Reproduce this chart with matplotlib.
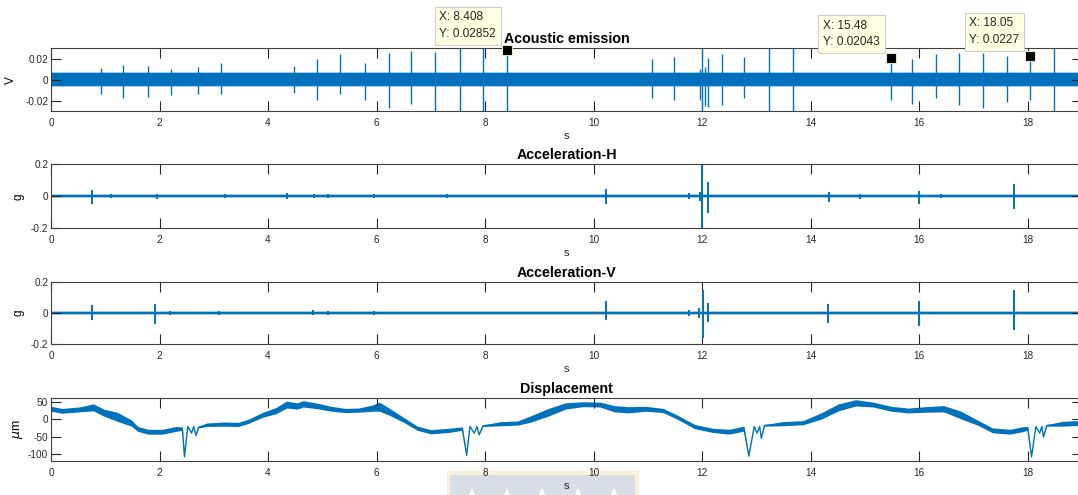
import numpy as np
import matplotlib
matplotlib.use("Agg")
import matplotlib.pyplot as plt
from matplotlib.patches import Rectangle, Polygon

plt.rcParams['font.family'] = ['Liberation Sans', 'DejaVu Sans']
plt.rcParams['axes.unicode_minus'] = False

BLUE = '#0072BD'
T_MAX = 19.0

# acoustic emission: noise floor and discrete bursts (s, V)
ae_floor = [-0.0062, 0.0064]
ae_fuzz = [-0.0074, 0.0076]
ae_t = [0.92, 1.335, 1.79, 2.22, 2.70, 3.135, 4.48, 4.90, 5.335, 5.78, 6.23, 6.63,
        7.07, 7.535, 7.955, 8.408, 11.07, 11.48, 11.96, 12.0, 12.05, 12.11, 12.36,
        12.78, 13.23, 13.68, 15.48, 15.86, 16.31, 16.74, 17.17, 17.62, 18.05, 18.49]
ae_hi = [0.0113, 0.0139, 0.0132, 0.0104, 0.0117, 0.0157, 0.0132, 0.0200, 0.0246,
         0.0157, 0.0258, 0.0277, 0.0260, 0.031, 0.031, 0.02852, 0.0195, 0.0214,
         0.010, 0.031, 0.012, 0.0210, 0.0246, 0.0214, 0.031, 0.031, 0.02043,
         0.0195, 0.0246, 0.0252, 0.0256, 0.0230, 0.0227, 0.031]
ae_lo = [-0.0135, -0.0176, -0.0167, -0.0148, -0.0135, -0.0139, -0.0123, -0.019,
         -0.0135, -0.019, -0.027, -0.0233, -0.031, -0.031, -0.031, -0.031, -0.0176,
         -0.019, -0.019, -0.031, -0.025, -0.026, -0.024, -0.0176, -0.031, -0.031,
         -0.0195, -0.023, -0.0176, -0.024, -0.027, -0.021, -0.0198, -0.031]

# data tips shown on the acoustic emission trace
tip_x = [8.408, 15.48, 18.05]
tip_y = [0.02852, 0.02043, 0.0227]

# horizontal acceleration (g)
acc_floor = [-0.007, 0.007]
acc_fuzz = [-0.012, 0.012]
ah_t = [0.757, 1.10, 1.95, 3.20, 4.35, 4.85, 5.10, 5.95, 7.30, 10.23, 11.75, 11.96,
        12.0, 12.11, 14.34, 14.9, 16.0, 16.4, 17.75]
ah_hi = [0.038, 0.015, 0.015, 0.015, 0.02, 0.014, 0.014, 0.014, 0.012, 0.046, 0.02,
         0.03, 0.21, 0.092, 0.03, 0.014, 0.033, 0.014, 0.077]
ah_lo = [-0.046, -0.012, -0.015, -0.012, -0.018, -0.012, -0.012, -0.012, -0.012,
         -0.046, -0.015, -0.03, -0.21, -0.104, -0.035, -0.014, -0.046, -0.012, -0.077]

# vertical acceleration (g)
av_t = [0.757, 1.92, 2.2, 3.1, 4.83, 5.1, 5.95, 10.23, 11.75, 11.95, 12.02, 12.11,
        14.31, 15.99, 17.74]
av_hi = [0.053, 0.055, 0.015, 0.012, 0.018, 0.014, 0.015, 0.077, 0.02, 0.03, 0.145,
         0.064, 0.055, 0.077, 0.145]
av_lo = [-0.043, -0.072, -0.012, -0.014, -0.015, -0.012, -0.012, -0.047, -0.02,
         -0.03, -0.157, -0.06, -0.064, -0.081, -0.11]

# displacement (um): trace, and half-width of the vibration band around it
d_t = [0, 0.2, 0.52, 0.78, 0.97, 1.22, 1.48, 1.6, 1.79, 2.05, 2.3, 2.42, 2.46, 2.52,
       2.59, 2.63, 2.67, 2.72, 2.87, 3.19, 3.45, 3.64, 3.89, 4.15, 4.34, 4.53, 4.65,
       4.91, 5.16, 5.42, 5.67, 5.93, 6.05, 6.24, 6.5, 6.75, 7.0, 7.33, 7.58, 7.66,
       7.72, 7.8, 7.85, 7.89, 7.96, 8.28, 8.6, 8.83, 9.15, 9.48, 9.8, 10.12, 10.38,
       10.64, 10.96, 11.28, 11.54, 11.86, 12.19, 12.5, 12.77, 12.86, 12.96, 13.01,
       13.06, 13.09, 13.15, 13.48, 13.86, 14.19, 14.51, 14.83, 15.15, 15.48, 15.8,
       16.12, 16.45, 16.77, 17.09, 17.35, 17.67, 17.93, 18.0, 18.07, 18.15, 18.22,
       18.26, 18.29, 18.35, 18.64, 18.95]
d_v = [30, 24, 28, 34, 19, 7, -11, -28, -36, -36, -28, -27, -108, -21,
       -40, -21, -47, -23, -16, -14, -15, -6, 12, 25, 42, 38, 44,
       38, 30, 25, 26, 32, 36, 21, -2, -26, -36, -32, -27, -104,
       -21, -40, -21, -45, -19, -13, -11, 0, 19, 38, 43, 42, 30,
       27, 30, 25, 6, -21, -32, -36, -27, -106, -21, -40,
       -21, -55, -18, -13, -10, 9, 34, 47, 42, 30, 25,
       28, 30, 12, -11, -32, -36, -28, -26, -108, -21, -40,
       -21, -51, -18, -13, -11]
d_w = [7, 7, 7, 10, 10, 13, 9, 7, 7, 7, 7, 5, 0, 0,
       0, 0, 0, 2, 5, 6, 6, 6, 7, 9, 10, 9, 9,
       8, 7, 6, 6, 9, 13, 10, 7, 6, 6, 6, 5, 0,
       0, 0, 0, 0, 2, 6, 6, 9, 11, 9, 7, 7, 9,
       9, 7, 6, 6, 6, 6, 7, 7, 0, 0, 0,
       0, 0, 2, 6, 6, 9, 10, 9, 7, 7, 7,
       8, 9, 11, 7, 7, 7, 7, 5, 0, 0, 0,
       0, 0, 2, 7, 7]

W, H = 1078, 495
fig = plt.figure(figsize=(W / 100, H / 100), dpi=100)


def panel(top_px, bottom_px):
    left, right = 51, 1082
    ax = fig.add_axes([left / W, 1 - bottom_px / H, (right - left) / W,
                       (bottom_px - top_px) / H])
    ax.set_xlim(0, T_MAX)
    ax.set_xticks(range(0, 19, 2))
    ax.tick_params(direction='in', length=7, width=0.8, top=True, right=True,
                   labelsize=7.2, labelcolor='#262626', color='#262626')
    ax.tick_params(axis='x', pad=5)
    ax.tick_params(axis='y', pad=2)
    for s in ax.spines.values():
        s.set_color('#404040')
        s.set_linewidth(0.8)
    ax.set_xlabel('s', fontsize=8, color='#262626', labelpad=2)
    return ax


def noise_band(ax, floor, fuzz):
    ax.fill_between([0, T_MAX], fuzz[0], fuzz[1], color=BLUE, alpha=0.35, lw=0)
    ax.fill_between([0, T_MAX], floor[0], floor[1], color=BLUE, lw=0)


# acoustic emission
ax1 = panel(48.3, 111)
noise_band(ax1, ae_floor, ae_fuzz)
ax1.vlines(ae_t, ae_lo, ae_hi, color=BLUE, lw=1.0)
ax1.set_ylim(-0.03, 0.03)
ax1.set_yticks([-0.02, 0, 0.02])
ax1.set_yticklabels(['-0.02', '0', '0.02'])
ax1.set_ylabel('V', fontsize=8.5)
ax1.yaxis.set_label_coords(-0.033, 0.5)
ax1.set_title('Acoustic emission', fontsize=10.3, fontweight='bold', pad=3.5)
ax1.plot(tip_x, tip_y, 's', ms=6.5, mfc='black', mec='#E8E4C0', mew=0.8,
         clip_on=False, zorder=5)
for x, y in zip(tip_x, tip_y):
    ax1.annotate(f"X: {x:g}\nY: {y:g}", xy=(x, y), xytext=(-11, 10),
                 textcoords='offset pixels', ha='right', va='bottom',
                 multialignment='left', fontsize=8.6, color='#262626',
                 linespacing=1.5, annotation_clip=False, zorder=6,
                 bbox=dict(boxstyle='square,pad=0.4', fc='#FFFFE1',
                           ec='#CFCFCF', lw=0.8))

# acceleration, horizontal
ax2 = panel(164.3, 228.3)
noise_band(ax2, acc_floor, acc_fuzz)
ax2.vlines(ah_t, ah_lo, ah_hi, color=BLUE, lw=1.4)
ax2.set_ylim(-0.2, 0.2)
ax2.set_yticks([-0.2, 0, 0.2])
ax2.set_yticklabels(['-0.2', '0', '0.2'])
ax2.set_ylabel('g', fontsize=8.5)
ax2.yaxis.set_label_coords(-0.026, 0.5)
ax2.set_title('Acceleration-H', fontsize=10.3, fontweight='bold', pad=3.5)

# acceleration, vertical
ax3 = panel(281.7, 344.3)
noise_band(ax3, acc_floor, acc_fuzz)
ax3.vlines(av_t, av_lo, av_hi, color=BLUE, lw=1.4)
ax3.set_ylim(-0.2, 0.2)
ax3.set_yticks([-0.2, 0, 0.2])
ax3.set_yticklabels(['-0.2', '0', '0.2'])
ax3.set_ylabel('g', fontsize=8.5)
ax3.yaxis.set_label_coords(-0.026, 0.5)
ax3.set_title('Acceleration-V', fontsize=10.3, fontweight='bold', pad=3.5)

# displacement
ax4 = panel(398.3, 461)
dv = np.array(d_v, dtype=float)
dw = np.array(d_w, dtype=float)
ax4.fill_between(d_t, dv - dw, dv + dw, color=BLUE, lw=0)
ax4.plot(d_t, d_v, color=BLUE, lw=1.0)
ax4.set_ylim(-120, 60)
ax4.set_yticks([-100, -50, 0, 50])
ax4.set_ylabel(r'$\mu$m', fontsize=9)
ax4.yaxis.set_label_coords(-0.025, 0.5)
ax4.set_title('Displacement', fontsize=10.3, fontweight='bold', pad=3.5)

# faded crest printed under the last axis label
fig.patches.append(Rectangle((447 / W, 0), 192 / W, 24 / H, transform=fig.transFigure,
                             fc='#FCEFD9', ec='none', zorder=-2))
fig.patches.append(Rectangle((450 / W, 0), 185 / W, 20 / H, transform=fig.transFigure,
                             fc='#D8DEE6', ec='none', zorder=-1))
for px in [472, 507, 542, 578, 614]:
    fig.patches.append(Polygon([((px - 3) / W, 0), (px / W, 7 / H), ((px + 3) / W, 0)],
                               closed=True, transform=fig.transFigure,
                               fc='white', ec='none', zorder=-1))

fig.savefig('out.png', dpi=100)
